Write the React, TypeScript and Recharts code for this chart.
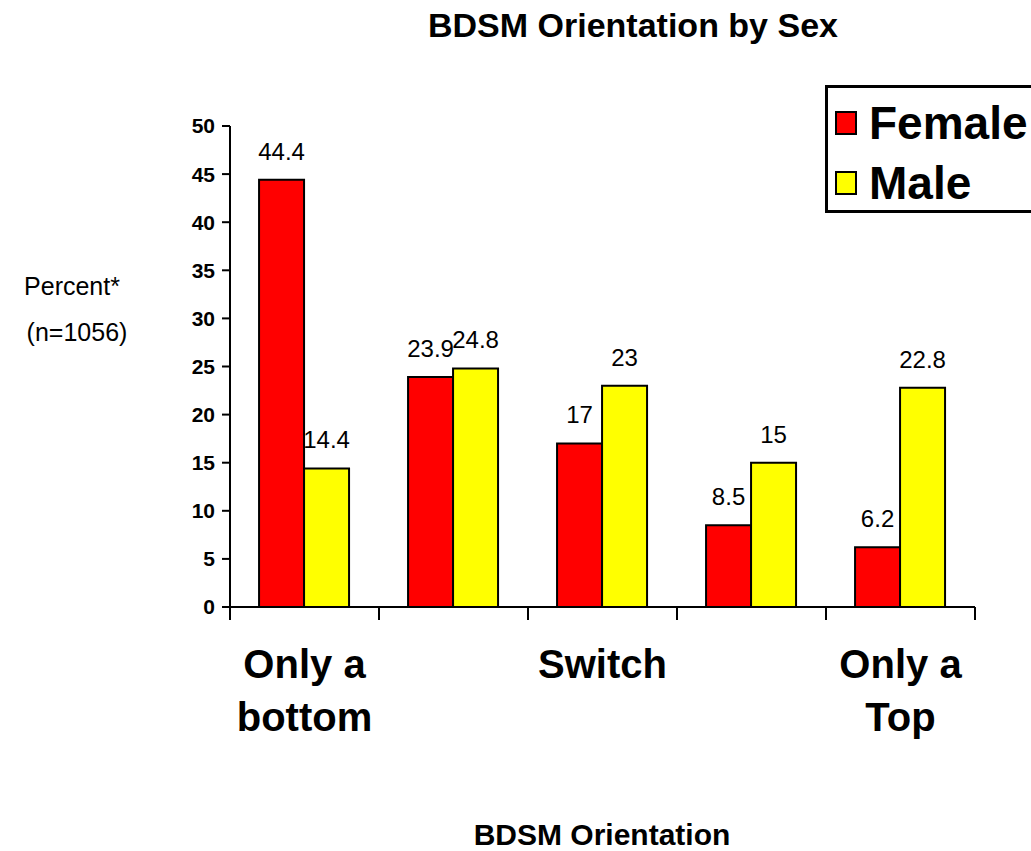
import { Bar, BarChart, LabelList, XAxis, YAxis } from "recharts";

const categories = ["Only a bottom", "", "Switch", "", "Only a Top"];
const femaleValues = [44.4, 23.9, 17, 8.5, 6.2];
const maleValues = [14.4, 24.8, 23, 15, 22.8];
const yTicks = [0, 5, 10, 15, 20, 25, 30, 35, 40, 45, 50];
const seriesNames = ["Female", "Male"];
const seriesColors = ["#ff0000", "#ffff00"];

const FONT = "'Liberation Sans', Arial, Helvetica, sans-serif";
const AXIS_Y = 607;

const data = categories.map((name, i) => ({
  name,
  Female: femaleValues[i],
  Male: maleValues[i],
}));

// label plus tick marks at the category borders
function CategoryTick(props: any) {
  const { x, payload, index } = props;
  const i = payload.index ?? index ?? 0;
  const half = payload.offset || 74.5;
  const label: string = categories[i] ?? String(payload.value ?? "");
  const cut = label.lastIndexOf(" ");
  const lines = !label ? [] : cut > 0 ? [label.slice(0, cut), label.slice(cut + 1)] : [label];
  const edges = i === categories.length - 1 ? [x - half, x + half] : [x - half];
  return (
    <g>
      {edges.map((ex, k) => (
        <line key={k} x1={ex} x2={ex} y1={AXIS_Y} y2={AXIS_Y + 13} stroke="#000" strokeWidth={2} />
      ))}
      {lines.length > 0 && (
        <text
          x={x}
          y={678}
          textAnchor="middle"
          fontFamily={FONT}
          fontWeight="bold"
          fontSize={40}
          fill="#000"
        >
          {lines.map((line, k) => (
            <tspan key={k} x={x} dy={k === 0 ? 0 : 53}>
              {line}
            </tspan>
          ))}
        </text>
      )}
    </g>
  );
}

// legend drawn as an overlay so it takes no room from the plot
function LegendBox() {
  return (
    <div
      style={{
        position: "absolute",
        left: 825,
        top: 85,
        width: 230,
        height: 128,
        border: "3px solid #000",
        background: "#fff",
        boxSizing: "border-box",
        paddingTop: 5,
        fontFamily: FONT,
      }}
    >
      {seriesNames.map((name, i) => (
        <div
          key={name}
          style={{ display: "flex", alignItems: "center", height: 60, paddingLeft: 7 }}
        >
          <div
            style={{
              width: 18,
              height: 20,
              background: seriesColors[i],
              border: "2px solid #000",
              marginRight: 12,
            }}
          />
          <span style={{ fontSize: 46, fontWeight: "bold", lineHeight: "46px" }}>{name}</span>
        </div>
      ))}
    </div>
  );
}

export default function App() {
  return (
    <div
      style={{
        position: "absolute",
        left: 0,
        top: 0,
        width: 1031,
        height: 851,
        overflow: "hidden",
        background: "#fff",
      }}
    >
      <BarChart
        width={1031}
        height={851}
        data={data}
        margin={{ top: 126, right: 56, left: 170, bottom: 104 }}
        barCategoryGap="19.5%"
        barGap={0}
      >
        <XAxis
          dataKey="name"
          height={140}
          axisLine={{ stroke: "#000", strokeWidth: 2 }}
          tickLine={false}
          tick={<CategoryTick />}
          interval={0}
        />
        <YAxis
          width={60}
          domain={[0, 50]}
          ticks={yTicks}
          interval={0}
          axisLine={{ stroke: "#000", strokeWidth: 2 }}
          tickLine={{ stroke: "#000", strokeWidth: 2 }}
          tickSize={8}
          tickMargin={7}
          tick={{ fill: "#000", fontSize: 21, fontWeight: "bold", fontFamily: FONT }}
        />
        {seriesNames.map((name, i) => (
          <Bar
            key={name}
            dataKey={name}
            fill={seriesColors[i]}
            stroke="#000"
            strokeWidth={2}
            isAnimationActive={false}
          >
            <LabelList
              dataKey={name}
              position="top"
              offset={20}
              fill="#000"
              fontSize={24}
              fontFamily={FONT}
            />
          </Bar>
        ))}
      </BarChart>
      <LegendBox />
      <svg
        width={1031}
        height={851}
        style={{ position: "absolute", left: 0, top: 0, pointerEvents: "none" }}
      >
        <text x={633} y={37} textAnchor="middle" fontFamily={FONT} fontWeight="bold" fontSize={34}>
          BDSM Orientation by Sex
        </text>
        <text x={72} y={295} textAnchor="middle" fontFamily={FONT} fontSize={25}>
          Percent*
        </text>
        <text x={77} y={341} textAnchor="middle" fontFamily={FONT} fontSize={25}>
          (n=1056)
        </text>
        <text x={602} y={845} textAnchor="middle" fontFamily={FONT} fontWeight="bold" fontSize={30}>
          BDSM Orientation
        </text>
      </svg>
    </div>
  );
}
